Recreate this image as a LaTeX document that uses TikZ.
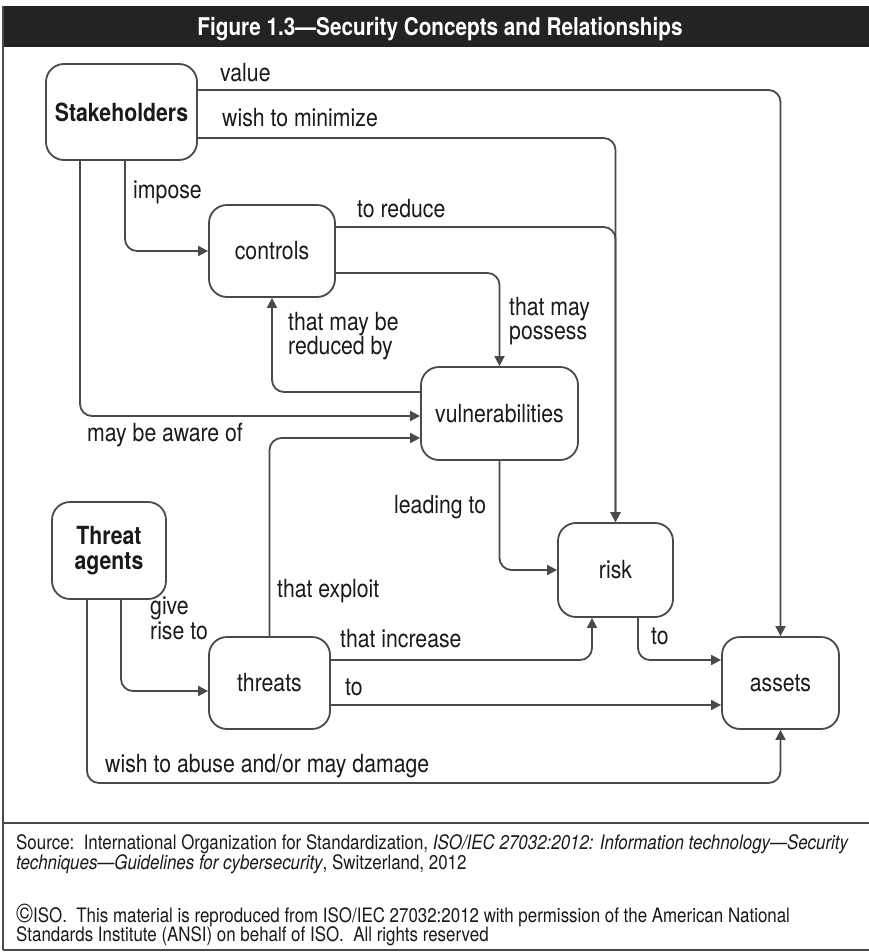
\documentclass[tikz,border=0pt]{standalone}
\usepackage{fontspec}
\setmainfont{TeX Gyre Heros}[FakeStretch=0.85]
\usetikzlibrary{arrows.meta}
\definecolor{ink}{HTML}{1A1A1A}
\definecolor{wire}{HTML}{4A4A4A}
\definecolor{band}{HTML}{232323}
\tikzset{
  box/.style={draw=wire, line width=1.8pt, rounded corners=18pt, fill=white,
    text=ink, font=\fontsize{25}{27}\selectfont, align=center, inner sep=0pt},
  bbox/.style={box, font=\fontsize{25}{27}\selectfont\bfseries},
  conn/.style={draw=wire, line width=1.8pt, rounded corners=12pt,
    -{Triangle[length=10pt,width=10pt]}},
  lbl/.style={text=ink, font=\fontsize{25}{24.5}\selectfont, inner sep=0pt, align=left},
  note/.style={text=ink, font=\fontsize{19.9}{20}\selectfont, inner sep=0pt, anchor=base west},
  frameline/.style={draw=wire, line width=2.4pt}
}
\begin{document}
\begin{tikzpicture}[x=1pt, y=-1pt]
\useasboundingbox (0,0) rectangle (868,952);
\fill[white] (0,0) rectangle (868,952);

% outer frame, title band and footer divider
\fill[band] (3,6) rectangle (875,47);
\draw[frameline] (3,6) -- (3,950);
\draw[frameline] (3,823) -- (875,823);
\draw[frameline] (3,950) -- (875,950);
\node[text=white, font=\fontsize{24.4}{26}\selectfont\bfseries, anchor=base, inner sep=0pt]
  (title) at (440,36) {Figure 1.3---Security Concepts and Relationships};

% concepts
\node[bbox, minimum width=151pt, minimum height=96pt] (sh)   at (121.5,112) {Stakeholders};
\node[box,  minimum width=126pt, minimum height=92pt] (ctl)  at (272,251)   {controls};
\node[box,  minimum width=157pt, minimum height=93pt] (vul)  at (499.5,413.5) {vulnerabilities};
\node[box,  minimum width=115pt, minimum height=94pt] (risk) at (615.5,570) {risk};
\node[box,  minimum width=117pt, minimum height=92pt] (ast)  at (780.5,683) {assets};
\node[bbox, minimum width=114pt, minimum height=97pt] (ta)   at (109,550.5) {Threat\\[-2pt]agents};
\node[box,  minimum width=121pt, minimum height=92pt] (thr)  at (269.5,683) {threats};

% relationships
\draw[conn] (sh.east |- 0,90) -| (ast.north);
\draw[conn] (sh.east |- 0,138) -| (risk.north);
\draw[conn] (ctl.east |- 0,227) -| (risk.north);
\draw[conn] (ctl.east |- 0,273) -| (vul.north);
\draw[conn] (vul.west |- 0,392) -| (ctl.south);
\draw[conn] (sh.south -| 80,0) |- (vul.west |- 0,416);
\draw[conn] (sh.south -| 125,0) |- (ctl.west);
\draw[conn] (thr.north) |- (vul.west |- 0,438);
\draw[conn] (vul.south) |- (risk.west);
\draw[conn] (ta.south -| 121,0) |- (thr.west |- 0,691);
\draw[conn] (ta.south -| 87,0) |- (ast.south |- 0,783) -- (ast.south);
\draw[conn] (thr.east |- 0,660) -| (risk.south -| 592,0);
\draw[conn] (thr.east |- 0,705) -- (ast.west |- 0,705);
\draw[conn] (risk.south -| 638,0) |- (ast.west |- 0,660);

% relationship labels
\node[lbl, anchor=base west] (l1)  at (220,82)  {value};
\node[lbl, anchor=base west] (l2)  at (222,127) {wish to minimize};
\node[lbl, anchor=base west] (l3)  at (133,198) {impose};
\node[lbl, anchor=base west] (l4)  at (357,217) {to reduce};
\node[lbl, anchor=north west] (l5) at (509,297) {that may\\possess};
\node[lbl, anchor=north west] (l6) at (288,312) {that may be\\reduced by};
\node[lbl, anchor=base west] (l7)  at (87,441)  {may be aware of};
\node[lbl, anchor=base west] (l8)  at (394,513) {leading to};
\node[lbl, anchor=base west] (l9)  at (277,597) {that exploit};
\node[lbl, anchor=north west] (l10) at (150,597) {give\\rise to};
\node[lbl, anchor=base west] (l11) at (340,647) {that increase};
\node[lbl, anchor=base west] (l12) at (345,695) {to};
\node[lbl, anchor=base west] (l13) at (105,772) {wish to abuse and/or may damage};
\node[lbl, anchor=base west] (l14) at (651,644) {to};

% source and copyright
\node[note] (s1) at (16,849) {Source:\ \ International Organization for Standardization, \textit{ISO/IEC 27032:2012: Information technology---Security}};
\node[note] (s2) at (16,869) {\textit{techniques---Guidelines for cybersecurity}, Switzerland, 2012};
\node[note] (c1) at (16,922) {{\fontsize{27}{20}\selectfont\textcopyright}ISO.\ \ This material is reproduced from ISO/IEC 27032:2012 with permission of the American National};
\node[note] (c2) at (16,941) {Standards Institute (ANSI) on behalf of ISO.\ \ All rights reserved};
\end{tikzpicture}
\end{document}
